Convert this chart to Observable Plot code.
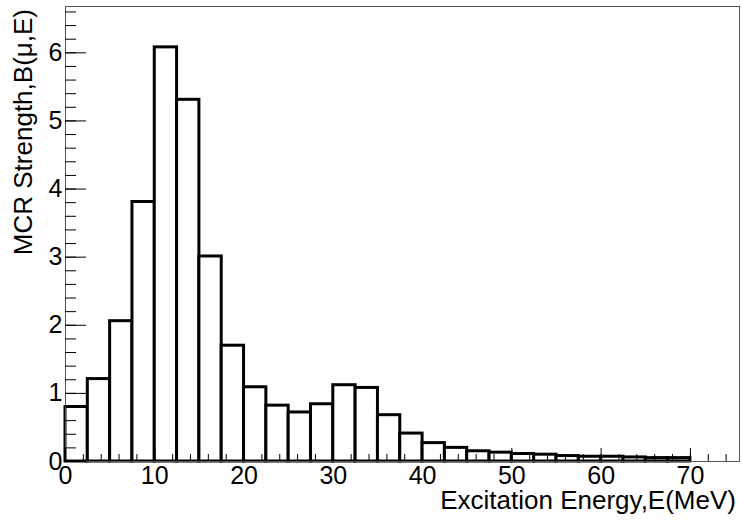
<!DOCTYPE html>
<html>
<head>
<meta charset="utf-8">
<script src="https://cdn.jsdelivr.net/npm/d3@7"></script>
<script src="https://cdn.jsdelivr.net/npm/@observablehq/plot@0.6"></script>
<style>
  html, body { margin: 0; padding: 0; background: white; }
</style>
</head>
<body>
<div id="chart"></div>
<script>
// Bin lower edges (MeV), bin width 2.5 MeV
const binLo = [0, 2.5, 5, 7.5, 10, 12.5, 15, 17.5, 20, 22.5, 25, 27.5, 30, 32.5,
               35, 37.5, 40, 42.5, 45, 47.5, 50, 52.5, 55, 57.5, 60, 62.5, 65, 67.5];
const binWidth = 2.5;
// MCR strength B(mu,E) per bin
const strength = [0.80, 1.21, 2.06, 3.81, 6.08, 5.31, 3.01, 1.70, 1.09, 0.82, 0.72, 0.84, 1.12, 1.08,
                  0.68, 0.41, 0.27, 0.20, 0.15, 0.13, 0.11, 0.10, 0.08, 0.07, 0.07, 0.06, 0.05, 0.05];
// Tick values
const xMajor = [0, 10, 20, 30, 40, 50, 60, 70];
const xMinor = [0, 2, 4, 6, 8, 10, 12, 14, 16, 18, 20, 22, 24, 26, 28, 30, 32, 34, 36, 38, 40,
                42, 44, 46, 48, 50, 52, 54, 56, 58, 60, 62, 64, 66, 68, 70, 72, 74];
const yMajor = [0, 1, 2, 3, 4, 5, 6];
const yMinor = [0, 0.2, 0.4, 0.6, 0.8, 1, 1.2, 1.4, 1.6, 1.8, 2, 2.2, 2.4, 2.6, 2.8, 3, 3.2, 3.4,
                3.6, 3.8, 4, 4.2, 4.4, 4.6, 4.8, 5, 5.2, 5.4, 5.6, 5.8, 6, 6.2, 6.4, 6.6];
const xTitle = "Excitation Energy,E(MeV)";
const yTitle = "MCR Strength,B(\u03bc,E)";

const bins = binLo.map((lo, i) => ({x1: lo, x2: lo + binWidth, y: strength[i]}));

const font = "'Liberation Sans', Arial, Helvetica, sans-serif";
const fmt = d3.format("d");

const svg = Plot.plot({
  width: 742,
  height: 520,
  marginLeft: 65,
  marginRight: 3,
  marginTop: 6,
  marginBottom: 59,
  x: {domain: [0, 75.5]},
  y: {domain: [0, 6.68]},
  style: {fontFamily: font, fontSize: "25px", color: "black", background: "white"},
  marks: [
    Plot.rectY(bins, {x1: "x1", x2: "x2", y: "y", fill: "white", stroke: "black", strokeWidth: 3}),
    Plot.frame({stroke: "#555", strokeWidth: 1}),
    Plot.axisX(xMinor, {tickSize: -7, fill: "none", label: null}),
    Plot.axisX(xMajor, {tickSize: -13, fill: "none", label: null}),
    Plot.axisX(xMajor, {tickSize: 0, tickPadding: 5, label: null, fontSize: 25, tickFormat: fmt}),
    Plot.axisY(yMinor, {tickSize: -11, fill: "none", label: null}),
    Plot.axisY(yMajor, {tickSize: -21, fill: "none", label: null}),
    Plot.axisY(yMajor, {tickSize: 0, tickPadding: 3, label: null, fontSize: 25, tickFormat: fmt})
  ]
});

const s = d3.select(svg);
s.append("text")
  .attr("x", 736)
  .attr("y", 509)
  .attr("text-anchor", "end")
  .attr("font-family", font)
  .attr("font-size", 26)
  .attr("fill", "black")
  .text(xTitle);
s.append("text")
  .attr("transform", "translate(32,9) rotate(-90)")
  .attr("text-anchor", "end")
  .attr("font-family", font)
  .attr("font-size", 26)
  .attr("fill", "black")
  .text(yTitle);

document.getElementById("chart").appendChild(svg);
</script>
</body>
</html>
